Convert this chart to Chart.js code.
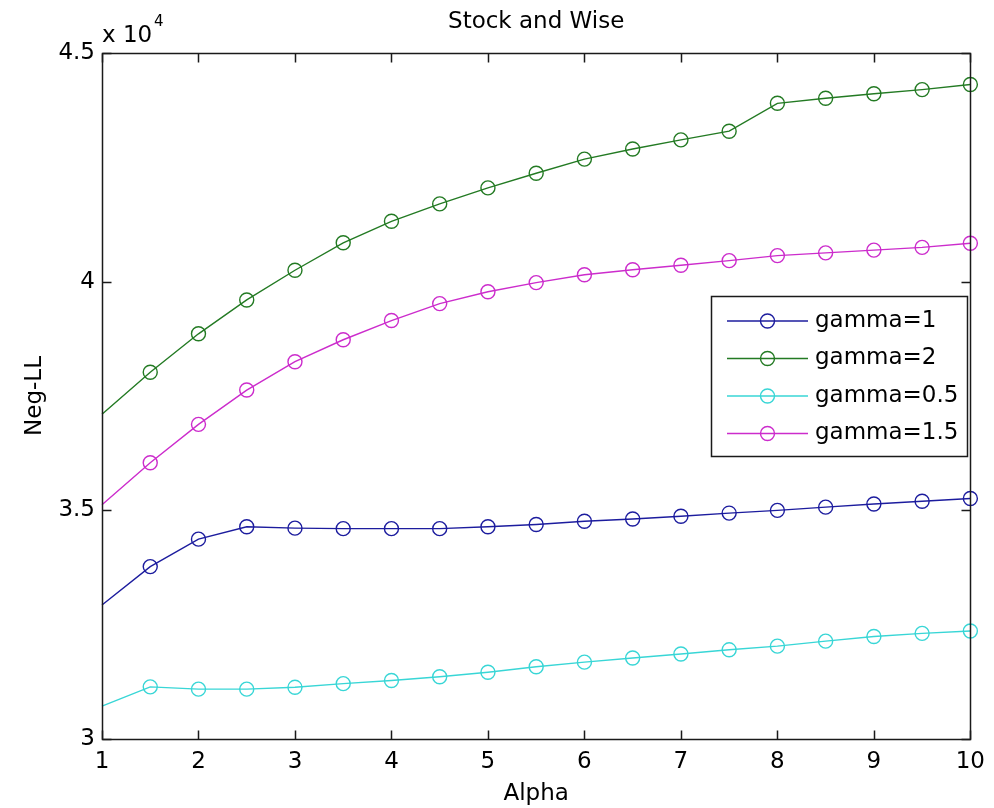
<!DOCTYPE html>
<html>
<head>
<meta charset="utf-8">
<script src="https://cdn.jsdelivr.net/npm/chart.js@4.4.0/dist/chart.umd.min.js"></script>
<style>
html,body{margin:0;padding:0;background:#ffffff;}
#wrap{width:994px;height:808px;}
canvas{display:block;}
</style>
</head>
<body>
<div id="wrap"><canvas id="c" width="994" height="808"></canvas></div>
<script>
// ---- data ----
const alpha   = [1, 1.5, 2, 2.5, 3, 3.5, 4, 4.5, 5, 5.5, 6, 6.5, 7, 7.5, 8, 8.5, 9, 9.5, 10];
const gamma1  = [32930, 33770, 34370, 34640, 34610, 34600, 34600, 34600, 34640, 34690, 34760, 34810, 34870, 34940, 35000, 35070, 35140, 35200, 35260];
const gamma2  = [37100, 38020, 38860, 39600, 40250, 40850, 41320, 41700, 42050, 42370, 42680, 42900, 43100, 43290, 43900, 44010, 44110, 44200, 44310];
const gamma05 = [30720, 31140, 31090, 31090, 31130, 31210, 31280, 31360, 31460, 31580, 31680, 31770, 31860, 31950, 32030, 32140, 32240, 32310, 32360];
const gamma15 = [35120, 36040, 36880, 37630, 38250, 38730, 39150, 39520, 39780, 39980, 40150, 40260, 40360, 40460, 40570, 40630, 40690, 40750, 40840];
const seriesLabels = ['gamma=1', 'gamma=2', 'gamma=0.5', 'gamma=1.5'];
const xTickValues = [1, 2, 3, 4, 5, 6, 7, 8, 9, 10];
const yTickValues = [30000, 35000, 40000, 45000];
const titleText = 'Stock and Wise';
const xTitle = 'Alpha';
const yTitle = 'Neg-LL';
const yScaleFactor = 10000;

// ---- styles ----
const FONT = '"DejaVu Sans", Verdana, sans-serif';
const FS = 23;
const colors = ['#1c1c9e', '#237a23', '#38d6d6', '#cc2ccc'];
const seriesValues = [gamma1, gamma2, gamma05, gamma15];

const datasets = seriesValues.map((vals, i) => ({
  label: seriesLabels[i],
  data: alpha.map((a, k) => ({x: a, y: vals[k]})),
  borderColor: colors[i],
  backgroundColor: 'rgba(0,0,0,0)',
  borderWidth: 1.4,
  pointStyle: 'circle',
  pointRadius: (c) => c.dataIndex === 0 ? 0 : 7,
  pointHoverRadius: (c) => c.dataIndex === 0 ? 0 : 7,
  pointBorderWidth: 1.4,
  pointBorderColor: colors[i],
  pointBackgroundColor: 'rgba(0,0,0,0)',
  tension: 0,
  fill: false,
  clip: false
}));

const framePlugin = {
  id: 'frame',
  afterDatasetsDraw(chart) {
    const {ctx, chartArea: a, scales: {x, y}} = chart;
    ctx.save();
    ctx.strokeStyle = '#1a1a1a';
    ctx.lineWidth = 1.5;
    const L = Math.round(a.left) + 0.5, R = Math.round(a.right) + 0.5;
    const T = Math.round(a.top) + 0.5, B = Math.round(a.bottom) + 0.5;
    ctx.strokeRect(L, T, R - L, B - T);
    const tl = 9;
    ctx.beginPath();
    x.ticks.forEach(t => {
      const px = Math.round(x.getPixelForValue(t.value)) + 0.5;
      ctx.moveTo(px, B); ctx.lineTo(px, B - tl);
      ctx.moveTo(px, T); ctx.lineTo(px, T + tl);
    });
    y.ticks.forEach(t => {
      const py = Math.round(y.getPixelForValue(t.value)) + 0.5;
      ctx.moveTo(L, py); ctx.lineTo(L + tl, py);
      ctx.moveTo(R, py); ctx.lineTo(R - tl, py);
    });
    ctx.stroke();

    // exponent label
    ctx.fillStyle = '#000';
    ctx.textBaseline = 'alphabetic';
    ctx.textAlign = 'left';
    ctx.font = FS + 'px ' + FONT;
    ctx.fillText('x 10', 102, 42);
    ctx.font = '15px ' + FONT;
    ctx.fillText(String(Math.log10(yScaleFactor)), 154, 26);

    // legend
    const lg = {x0: 711, y0: 296, x1: 967, y1: 456, lx0: 727, lx1: 808, mx: 767.5, tx: 815, rows: [321, 358.5, 396, 433.5]};
    ctx.fillStyle = '#ffffff';
    ctx.fillRect(lg.x0, lg.y0, lg.x1 - lg.x0, lg.y1 - lg.y0);
    ctx.strokeStyle = '#1a1a1a';
    ctx.lineWidth = 1.5;
    ctx.strokeRect(lg.x0 + 0.5, lg.y0 + 0.5, lg.x1 - lg.x0, lg.y1 - lg.y0);
    chart.data.datasets.forEach((ds, i) => {
      const ry = lg.rows[i];
      ctx.strokeStyle = ds.borderColor;
      ctx.lineWidth = 1.4;
      ctx.beginPath();
      ctx.moveTo(lg.lx0, ry); ctx.lineTo(lg.lx1, ry);
      ctx.stroke();
      ctx.beginPath();
      ctx.arc(lg.mx, ry, 7, 0, Math.PI * 2);
      ctx.stroke();
      ctx.fillStyle = '#000';
      ctx.font = FS + 'px ' + FONT;
      ctx.textBaseline = 'middle';
      ctx.fillText(ds.label, lg.tx, ry);
    });
    ctx.restore();
  }
};

new Chart(document.getElementById('c'), {
  type: 'line',
  data: {datasets},
  options: {
    responsive: false,
    animation: false,
    devicePixelRatio: 1,
    events: [],
    layout: {padding: {left: 0, right: 18, top: 0, bottom: 0}},
    plugins: {
      legend: {display: false},
      tooltip: {enabled: false},
      title: {
        display: true, text: titleText, color: '#000', fullSize: false,
        font: {family: FONT, size: FS, weight: 'normal'},
        padding: {top: 8.4, bottom: 17}
      }
    },
    scales: {
      x: {
        type: 'linear', min: 1, max: 10,
        afterBuildTicks: (s) => { s.ticks = xTickValues.map(v => ({value: v})); },
        afterFit: (s) => { s.height = 69; },
        grid: {display: false, drawTicks: false},
        border: {display: false},
        ticks: {padding: 9, color: '#000', font: {family: FONT, size: FS}, maxRotation: 0, autoSkip: false},
        title: {display: true, text: xTitle, color: '#000', font: {family: FONT, size: FS}, padding: {top: 0, bottom: 0}}
      },
      y: {
        type: 'linear', min: 30000, max: 45000,
        afterBuildTicks: (s) => { s.ticks = yTickValues.map(v => ({value: v})); },
        afterFit: (s) => { s.width = 102; },
        grid: {display: false, drawTicks: false},
        border: {display: false},
        ticks: {padding: 7, color: '#000', font: {family: FONT, size: FS},
          callback: (v) => String(v / yScaleFactor)},
        title: {display: true, text: yTitle, color: '#000', font: {family: FONT, size: FS}, padding: {top: 21, bottom: 0}}
      }
    }
  },
  plugins: [framePlugin]
});
</script>
</body>
</html>
